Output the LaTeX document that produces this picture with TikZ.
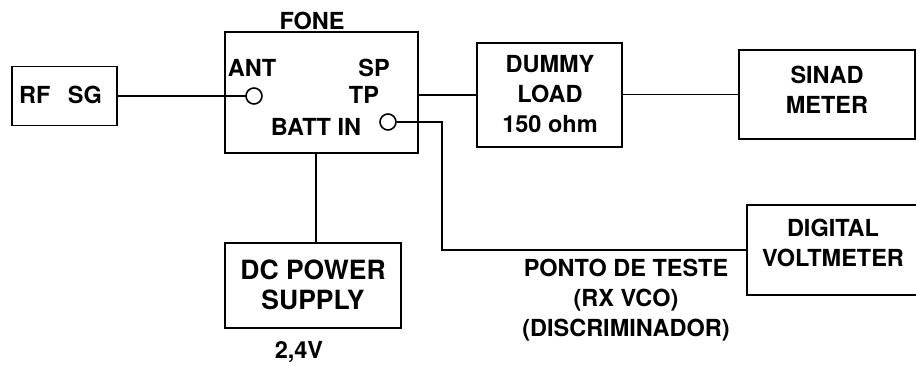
\documentclass[tikz,border=0pt]{standalone}
\usepackage{fontspec}
\setmainfont{TeX Gyre Heros}
\begin{document}
\begin{tikzpicture}[x=1pt,y=-1pt,
  box/.style={draw,line width=1.6pt,rectangle,inner sep=0pt},
  port/.style={draw,line width=1.6pt,circle,minimum size=16pt,inner sep=0pt,fill=white},
  wire/.style={line width=1.4pt},
  txt/.style={inner sep=0pt,align=center,font=\fontsize{23.5}{30}\selectfont\bfseries},
  bigtxt/.style={txt,font=\fontsize{26.5}{30}\selectfont\bfseries}]
\clip (0,0) rectangle (916,365);
% boxes
\node[box,minimum width=105pt,minimum height=59pt] (rfsg) at (64.5,96) {};
\node[box,minimum width=193pt,minimum height=121pt] (fone) at (321.5,92.5) {};
\node[box,minimum width=145pt,minimum height=104pt] (dummy) at (549.5,95) {};
\node[box,minimum width=176pt,minimum height=89pt] (sinad) at (827,94.5) {};
\node[box,minimum width=176pt,minimum height=85pt] (dc) at (313,285.5) {};
\node[box,minimum width=183pt,minimum height=90pt] (dvm) at (838.5,250) {};
% texts
\node[txt] (trfsg) at (60.5,94.5) {RF\hspace{0.75em}SG};
\node[txt] (tfone) at (312,21) {FONE};
\node[txt] (tant) at (252,67.5) {ANT};
\node[txt] (tsp) at (374,68) {SP};
\node[txt] (ttp) at (364,95) {TP};
\node[txt] (tbatt) at (316,127) {BATT IN};
\node[txt] (tdummy) at (550,94) {DUMMY\\LOAD\\150 ohm};
\node[txt] (tsinad) at (827,90) {SINAD\\METER};
\node[bigtxt] (tdc) at (313,285) {DC POWER\\SUPPLY};
\node[txt] (tvolt) at (299,352) {2,4V};
\node[txt] (tdvm) at (833,242.5) {DIGITAL\\VOLTMETER};
\node[txt] (tponto) at (626,300) {PONTO DE TESTE\\(RX VCO)\\(DISCRIMINADOR)};
% ports and wires
\coordinate (tpbend) at (442,122);
\coordinate (battpt) at (316,153);
\draw[wire] (rfsg.east) -- (254,96);
\draw[wire] (fone.east |- dummy.west) -- (dummy.west);
\draw[wire] (dummy.east |- sinad.west) -- (sinad.west);
\draw[wire] (battpt) -- (battpt |- dc.north);
\node[port] (antc) at (254,96) {};
\node[port] (tpc) at (388,122) {};
\draw[wire] (tpc.east) -- (tpbend) |- (dvm.west);
\end{tikzpicture}
\end{document}
